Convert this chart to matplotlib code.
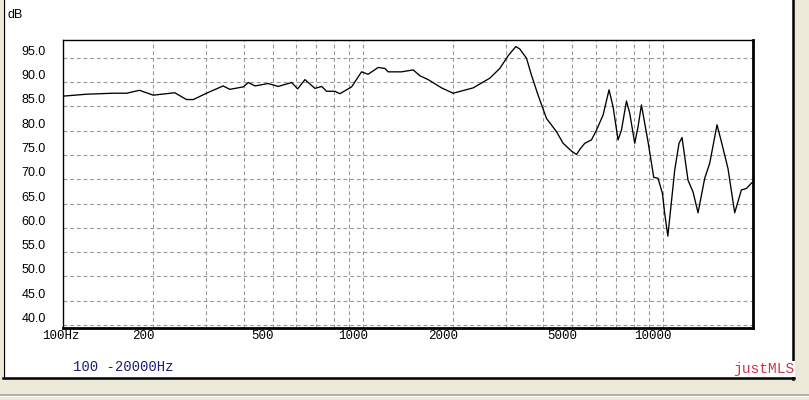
import matplotlib
matplotlib.use("Agg")
import matplotlib.pyplot as plt
import matplotlib.transforms as mtransforms
from matplotlib.patches import Rectangle
from matplotlib.lines import Line2D

# ---- data ----
freq_hz = [100, 120, 147, 163, 180, 200, 236, 258, 272, 301, 342, 360, 399, 415,
           437, 483, 522, 579, 606, 641, 692, 729, 757, 807, 838, 917, 990, 1041,
           1125, 1184, 1214, 1346, 1472, 1549, 1651, 1830, 2000, 2332, 2651, 2862,
           3051, 3236, 3337, 3513, 3650, 3840, 4097, 4423, 4653, 4963, 5157, 5300,
           5495, 5785, 6012, 6324, 6622, 6830, 7096, 7284, 7568, 7762, 8066, 8273,
           8491, 8933, 9333, 9646, 9977, 10150, 10400, 10965, 11332, 11597, 12143,
           12619, 13114, 13804, 14346, 15171, 15693, 16508, 17378, 18293, 19011,
           19755, 20000]
level_db = [87.1, 87.5, 87.7, 87.7, 88.3, 87.3, 87.8, 86.4, 86.4, 87.7, 89.2, 88.5,
            89.0, 89.9, 89.2, 89.7, 89.1, 89.9, 88.6, 90.5, 88.7, 89.1, 88.1, 88.1,
            87.6, 89.0, 92.1, 91.6, 93.0, 92.8, 92.1, 92.1, 92.5, 91.3, 90.5, 88.8,
            87.7, 88.8, 90.8, 92.8, 95.4, 97.3, 96.8, 94.9, 91.4, 87.3, 82.5, 79.8,
            77.4, 75.8, 75.1, 76.2, 77.4, 78.1, 80.1, 83.2, 88.4, 84.9, 78.1, 80.1,
            86.1, 83.6, 77.4, 80.8, 85.3, 77.7, 70.4, 70.2, 67.1, 63.0, 58.3, 71.9,
            77.4, 78.6, 69.8, 67.4, 63.1, 70.2, 73.3, 81.2, 77.7, 72.2, 63.1, 67.8,
            68.1, 69.2, 69.5]

x_tick_vals = [100, 200, 500, 1000, 2000, 5000, 10000]
x_tick_labels = ["100Hz", "200", "500", "1000", "2000", "5000", "10000"]
x_grid_vals = [200, 300, 400, 500, 600, 700, 800, 900,
               1000, 2000, 3000, 4000, 5000, 6000, 7000, 8000, 9000, 10000]
y_tick_vals = [40, 45, 50, 55, 60, 65, 70, 75, 80, 85, 90, 95]
y_tick_labels = ["40.0", "45.0", "50.0", "55.0", "60.0", "65.0", "70.0",
                 "75.0", "80.0", "85.0", "90.0", "95.0"]
range_text = "100 -20000Hz"
brand_text = "justMLS"
unit_text = "dB"

# ---- figure ----
W, H = 809, 400
DPI = 100
fig = plt.figure(figsize=(W / DPI, H / DPI), dpi=DPI, facecolor="#ece9d8")

def fx(px):
    return px / W

def fy(py):
    return 1 - py / H

# white panel with frame
fig.patches.append(Rectangle((fx(3), fy(378)), fx(790), 378 / H, transform=fig.transFigure,
                             facecolor="white", edgecolor="none", zorder=-5))
fig.add_artist(Line2D([fx(3.5), fx(3.5)], [fy(0), fy(378)], color="black", lw=0.9))
fig.add_artist(Line2D([fx(793), fx(793)], [fy(0), fy(379)], color="black", lw=1.8))
fig.add_artist(Line2D([fx(3), fx(794)], [fy(378), fy(378)], color="black", lw=1.8))
fig.add_artist(Line2D([0, 1], [fy(394.5), fy(394.5)], color="#a8a696", lw=1.2))
fig.add_artist(Line2D([0, 1], [fy(396), fy(396)], color="#ffffff", lw=0.8))

# axes
ax_left, ax_right, ax_top, ax_bottom = 63, 753, 40, 328
ax = fig.add_axes([fx(ax_left), fy(ax_bottom), (ax_right - ax_left) / W,
                   (ax_bottom - ax_top) / H])
ax.set_zorder(1)
ax.set_facecolor("white")
ax.set_xscale("log")
ax.set_xlim(100, 20000)
ax.set_ylim(39.4, 98.65)

for v in x_grid_vals:
    ax.axvline(v, color="#999999", lw=0.8, dashes=(3.5, 2.5), zorder=1)
for v in y_tick_vals:
    ax.axhline(v, color="#999999", lw=0.8, dashes=(3.5, 2.5), zorder=1)

ax.plot(freq_hz, level_db, color="black", lw=0.95, zorder=3)

ax.set_xticks([])
ax.set_yticks([])
ax.xaxis.set_minor_locator(matplotlib.ticker.NullLocator())
ax.spines["left"].set_linewidth(1.0)
ax.spines["top"].set_linewidth(1.0)
ax.spines["bottom"].set_linewidth(2.0)
ax.spines["right"].set_linewidth(2.0)
for s in ax.spines.values():
    s.set_color("black")

# y labels
ytrans = mtransforms.blended_transform_factory(ax.transAxes, ax.transData)
for v, lab in zip(y_tick_vals, y_tick_labels):
    off = mtransforms.ScaledTranslation(-17 / DPI, 6 / DPI, fig.dpi_scale_trans)
    ax.text(0, v, lab, transform=ytrans + off, ha="right", va="center",
            fontsize=9, family="Liberation Sans", color="black", clip_on=False)

# x labels
xtrans = mtransforms.blended_transform_factory(ax.transData, ax.transAxes)
for v, lab in zip(x_tick_vals, x_tick_labels):
    if lab.endswith("Hz"):
        off = mtransforms.ScaledTranslation(-21 / DPI, -8 / DPI, fig.dpi_scale_trans)
        ha = "left"
    else:
        off = mtransforms.ScaledTranslation(-10 / DPI, -8 / DPI, fig.dpi_scale_trans)
        ha = "center"
    ax.text(v, 0, lab, transform=xtrans + off, ha=ha, va="center",
            fontsize=9, family="Liberation Mono", color="black", clip_on=False)

fig.text(fx(8), fy(15), unit_text, ha="left", va="center", fontsize=9,
         family="Liberation Sans", color="black")
fig.text(fx(73), fy(367), range_text, ha="left", va="center", fontsize=10,
         family="Liberation Mono", color="#1c1c78")
fig.text(fx(733), fy(369), brand_text, ha="left", va="center", fontsize=10.5,
         family="Liberation Mono", color="#d0364a",
         bbox=dict(facecolor="white", edgecolor="none", pad=0.5))

fig.savefig("out.png", dpi=DPI, facecolor=fig.get_facecolor())
